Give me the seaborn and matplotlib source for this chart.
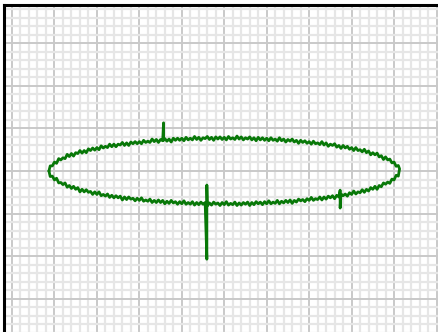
import matplotlib
matplotlib.use("Agg")
import matplotlib.pyplot as plt
from matplotlib.ticker import MultipleLocator
import seaborn as sns
import pandas as pd

# Upper half of the noisy trace (left -> right), spike near x=3.57
x_upper = [0.87,
           0.90, 0.95, 1.00, 1.05, 1.10, 1.15, 1.20, 1.25, 1.30, 1.35,
           1.40, 1.45, 1.50, 1.55, 1.60, 1.65, 1.70, 1.75, 1.80, 1.85,
           1.90, 1.95, 2.00, 2.05, 2.10, 2.15, 2.20, 2.25, 2.30, 2.35,
           2.40, 2.45, 2.50, 2.55, 2.60, 2.65, 2.70, 2.75, 2.80, 2.85,
           2.90, 2.95, 3.00, 3.05, 3.10, 3.15, 3.20, 3.25, 3.30, 3.35,
           3.40, 3.45, 3.50, 3.55, 3.57, 3.57, 3.60, 3.65, 3.70, 3.75, 3.80, 3.85,
           3.90, 3.95, 4.00, 4.05, 4.10, 4.15, 4.20, 4.25, 4.30, 4.35,
           4.40, 4.45, 4.50, 4.55, 4.60, 4.65, 4.70, 4.75, 4.80, 4.85,
           4.90, 4.95, 5.00, 5.05, 5.10, 5.15, 5.20, 5.25, 5.30, 5.35,
           5.40, 5.45, 5.50, 5.55, 5.60, 5.65, 5.70, 5.75, 5.80, 5.85,
           5.90, 5.95, 6.00, 6.05, 6.10, 6.15, 6.20, 6.25, 6.30, 6.35,
           6.40, 6.45, 6.50, 6.55, 6.60, 6.65, 6.70, 6.75, 6.80, 6.85,
           6.90, 6.95, 7.00, 7.05, 7.10, 7.15, 7.20, 7.25, 7.30, 7.35,
           7.40, 7.45, 7.50, 7.55, 7.60, 7.65, 7.70, 7.75, 7.80, 7.85,
           7.90, 7.95, 8.00, 8.05, 8.10, 8.15, 8.20, 8.25, 8.30, 8.35,
           8.40, 8.45, 8.50, 8.55, 8.60, 8.65, 8.70, 8.75, 8.80, 8.85,
           8.90, 8.95, 9.00, 9.05, 9.10,
           9.13]
y_upper = [0.00,
           0.12, 0.12, 0.21, 0.18, 0.29, 0.26, 0.31, 0.29, 0.39, 0.34,
           0.41, 0.35, 0.43, 0.41, 0.48, 0.42, 0.48, 0.43, 0.52, 0.48,
           0.54, 0.49, 0.55, 0.50, 0.59, 0.54, 0.58, 0.55, 0.63, 0.57,
           0.63, 0.57, 0.63, 0.61, 0.67, 0.60, 0.66, 0.60, 0.68, 0.64,
           0.69, 0.64, 0.69, 0.64, 0.72, 0.67, 0.70, 0.67, 0.75, 0.69,
           0.74, 0.67, 0.74, 0.71, 1.13, 0.72, 0.76, 0.70, 0.75, 0.68, 0.77, 0.72,
           0.77, 0.72, 0.77, 0.71, 0.79, 0.73, 0.77, 0.73, 0.81, 0.74,
           0.79, 0.72, 0.78, 0.76, 0.81, 0.74, 0.79, 0.72, 0.80, 0.75,
           0.80, 0.74, 0.79, 0.73, 0.81, 0.75, 0.78, 0.74, 0.82, 0.75,
           0.80, 0.73, 0.78, 0.75, 0.80, 0.73, 0.78, 0.71, 0.79, 0.73,
           0.78, 0.72, 0.77, 0.71, 0.78, 0.72, 0.75, 0.70, 0.78, 0.71,
           0.75, 0.68, 0.74, 0.70, 0.75, 0.68, 0.72, 0.65, 0.72, 0.67,
           0.71, 0.65, 0.69, 0.63, 0.70, 0.64, 0.66, 0.62, 0.69, 0.61,
           0.66, 0.58, 0.63, 0.60, 0.64, 0.56, 0.60, 0.53, 0.60, 0.54,
           0.58, 0.51, 0.55, 0.48, 0.55, 0.48, 0.50, 0.45, 0.51, 0.43,
           0.47, 0.38, 0.43, 0.38, 0.42, 0.33, 0.36, 0.27, 0.33, 0.26,
           0.28, 0.19, 0.21, 0.11, 0.13,
           0.05]

# Lower half of the noisy trace (right -> left), spikes near x=7.73 and x=4.59
x_lower = [9.10, 9.05, 9.00, 8.95, 8.90, 8.85, 8.80, 8.75, 8.70, 8.65,
           8.60, 8.55, 8.50, 8.45, 8.40, 8.35, 8.30, 8.25, 8.20, 8.15,
           8.10, 8.05, 8.00, 7.95, 7.90, 7.85, 7.80, 7.75, 7.73, 7.73, 7.70, 7.65,
           7.60, 7.55, 7.50, 7.45, 7.40, 7.35, 7.30, 7.25, 7.20, 7.15,
           7.10, 7.05, 7.00, 6.95, 6.90, 6.85, 6.80, 6.75, 6.70, 6.65,
           6.60, 6.55, 6.50, 6.45, 6.40, 6.35, 6.30, 6.25, 6.20, 6.15,
           6.10, 6.05, 6.00, 5.95, 5.90, 5.85, 5.80, 5.75, 5.70, 5.65,
           5.60, 5.55, 5.50, 5.45, 5.40, 5.35, 5.30, 5.25, 5.20, 5.15,
           5.10, 5.05, 5.00, 4.95, 4.90, 4.85, 4.80, 4.75, 4.70, 4.65,
           4.60, 4.59, 4.59, 4.55, 4.50, 4.45, 4.40, 4.35, 4.30, 4.25, 4.20, 4.15,
           4.10, 4.05, 4.00, 3.95, 3.90, 3.85, 3.80, 3.75, 3.70, 3.65,
           3.60, 3.55, 3.50, 3.45, 3.40, 3.35, 3.30, 3.25, 3.20, 3.15,
           3.10, 3.05, 3.00, 2.95, 2.90, 2.85, 2.80, 2.75, 2.70, 2.65,
           2.60, 2.55, 2.50, 2.45, 2.40, 2.35, 2.30, 2.25, 2.20, 2.15,
           2.10, 2.05, 2.00, 1.95, 1.90, 1.85, 1.80, 1.75, 1.70, 1.65,
           1.60, 1.55, 1.50, 1.45, 1.40, 1.35, 1.30, 1.25, 1.20, 1.15,
           1.10, 1.05, 1.00, 0.95, 0.90,
           0.87]
y_lower = [-0.12, -0.10, -0.21, -0.19, -0.29, -0.26, -0.31, -0.28, -0.37, -0.34,
           -0.43, -0.36, -0.43, -0.39, -0.47, -0.43, -0.50, -0.44, -0.51, -0.49,
           -0.54, -0.47, -0.55, -0.51, -0.59, -0.54, -0.58, -0.54, -0.87, -0.45, -0.61, -0.57,
           -0.65, -0.58, -0.63, -0.59, -0.66, -0.61, -0.68, -0.61, -0.67, -0.65,
           -0.69, -0.62, -0.69, -0.65, -0.72, -0.67, -0.70, -0.66, -0.73, -0.69,
           -0.76, -0.68, -0.74, -0.69, -0.75, -0.71, -0.77, -0.69, -0.76, -0.73,
           -0.77, -0.70, -0.77, -0.72, -0.79, -0.73, -0.77, -0.72, -0.79, -0.74,
           -0.81, -0.73, -0.78, -0.74, -0.80, -0.75, -0.81, -0.73, -0.79, -0.76,
           -0.80, -0.72, -0.79, -0.74, -0.81, -0.75, -0.78, -0.73, -0.80, -0.75,
           -0.82, -0.33, -2.07, -0.74, -0.78, -0.73, -0.79, -0.74, -0.80, -0.72, -0.78, -0.74,
           -0.78, -0.70, -0.77, -0.72, -0.78, -0.72, -0.75, -0.69, -0.76, -0.71,
           -0.77, -0.69, -0.74, -0.68, -0.74, -0.69, -0.74, -0.66, -0.71, -0.68,
           -0.71, -0.63, -0.69, -0.64, -0.70, -0.64, -0.66, -0.61, -0.67, -0.61,
           -0.68, -0.59, -0.63, -0.58, -0.63, -0.57, -0.62, -0.54, -0.59, -0.55,
           -0.58, -0.49, -0.55, -0.49, -0.55, -0.48, -0.50, -0.44, -0.49, -0.43,
           -0.49, -0.39, -0.43, -0.36, -0.41, -0.34, -0.38, -0.28, -0.32, -0.27,
           -0.28, -0.17, -0.21, -0.12, -0.13,
           0.00]

df = pd.DataFrame({"x": x_upper + x_lower, "y": y_upper + y_lower})

sns.set_style("white")
W, H = 438, 332
fig = plt.figure(figsize=(W / 100, H / 100), dpi=100)
fig.patch.set_facecolor("white")

# axes: left spine at px 4, top spine at px 5, extends past right/bottom edges
left_px, top_px = 4, 5
ax_w = 1.05
ax_h = 1 - top_px / H + 0.08
ax = fig.add_axes([left_px / W, -0.08, ax_w, ax_h])

sns.lineplot(data=df, x="x", y="y", sort=False, estimator=None,
             color="#087808", linewidth=2.0, ax=ax, zorder=3)

# x: major every 42.45 px, x=0 at px 12 ; y: 0 at px 171, 42.6 px per unit
x0 = (left_px - 12) / 42.45
ax.set_xlim(x0, x0 + ax_w * W / 42.45)
y_top = (171 - top_px) / 42.6
ax.set_ylim(y_top - ax_h * H / 42.6, y_top)

ax.xaxis.set_major_locator(MultipleLocator(1))
ax.yaxis.set_major_locator(MultipleLocator(1))
ax.xaxis.set_minor_locator(MultipleLocator(0.2))
ax.yaxis.set_minor_locator(MultipleLocator(0.2))
ax.grid(which="minor", color="#e6e6e6", linewidth=1.6)
ax.grid(which="major", color="#c9c9c9", linewidth=1.4)
ax.set_axisbelow(True)
ax.tick_params(which="both", length=0, labelbottom=False, labelleft=False)
ax.set_xlabel("")
ax.set_ylabel("")
for side in ["left", "top", "right", "bottom"]:
    ax.spines[side].set_color("black")
    ax.spines[side].set_linewidth(2.2)
ax.set_facecolor("white")

fig.savefig("out.png", dpi=100, facecolor="white")
